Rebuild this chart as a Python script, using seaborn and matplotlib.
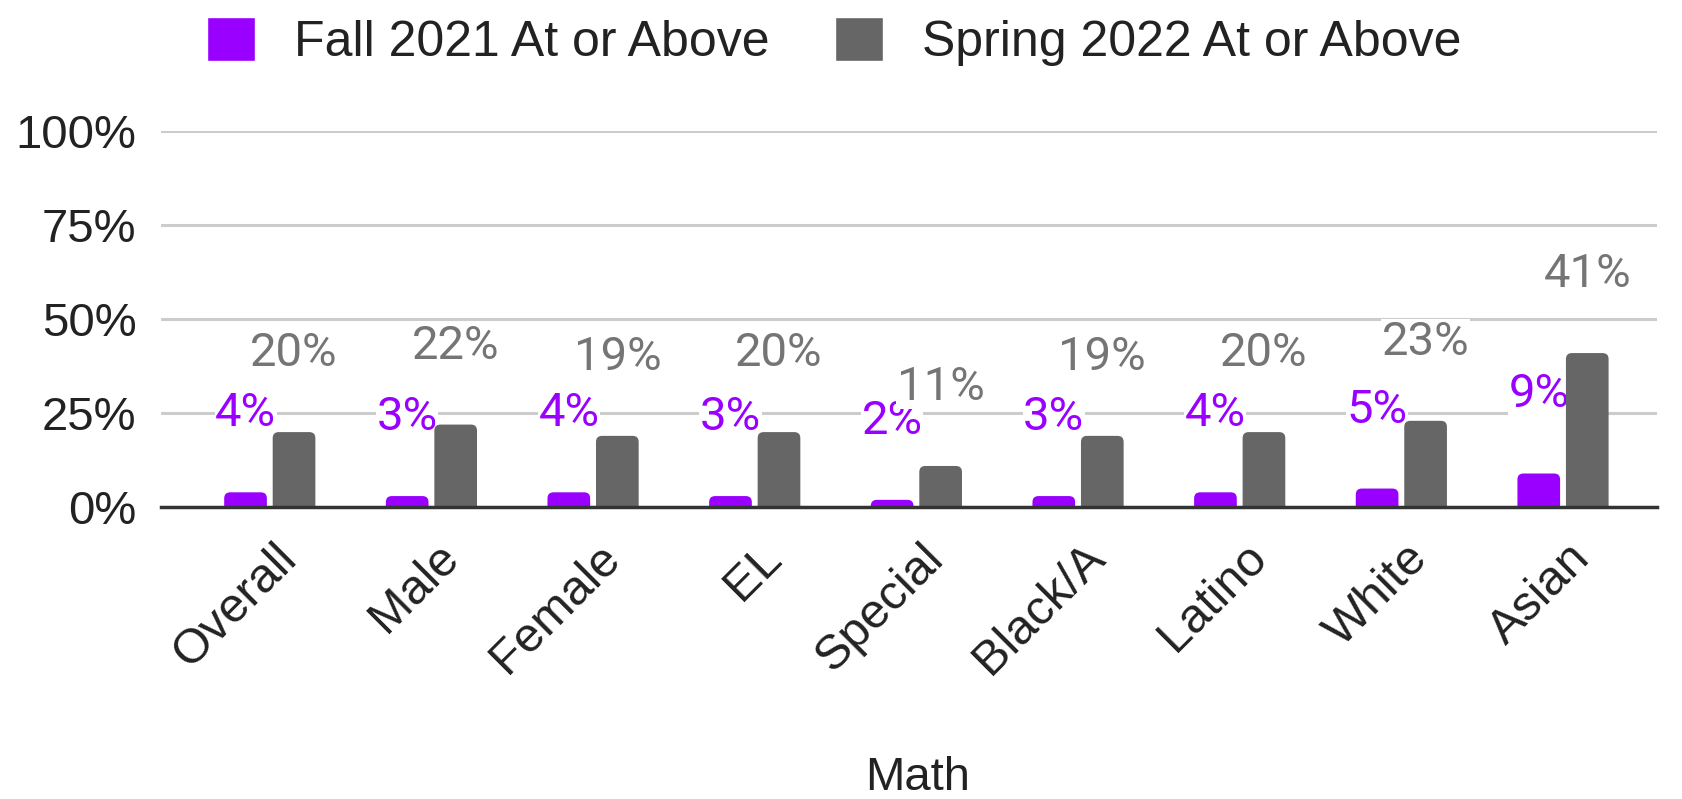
"""
Math: Fall 2021 vs Spring 2022 at or above, by group.
"""

import matplotlib
matplotlib.use("Agg")
import matplotlib.pyplot as plt
import matplotlib.transforms as mtransforms
from matplotlib.patches import FancyBboxPatch
import pandas as pd
import seaborn as sns

groups = ["Overall", "Male", "Female", "EL", "Special", "Black/A", "Latino", "White", "Asian"]
fall_2021 = [4, 3, 4, 3, 2, 3, 4, 5, 9]
spring_2022 = [20, 22, 19, 20, 11, 19, 20, 23, 41]
series_names = ["Fall 2021 At or Above", "Spring 2022 At or Above"]
y_ticks = [0, 25, 50, 75, 100]

FALL_COL = "#9900ff"
SPRING_COL = "#666666"
LABEL_OFFSET = 21  # sheets puts labels well above the bars

df = pd.DataFrame({
    "group": groups * 2,
    "series": [series_names[0]] * len(groups) + [series_names[1]] * len(groups),
    "value": fall_2021 + spring_2022,
})

sns.set_style("white")
plt.rcParams["font.family"] = ["Liberation Sans", "DejaVu Sans"]

fig = plt.figure(figsize=(16.82, 7.99), dpi=100)
ax = fig.add_axes([0.096, 0.365, 0.889, 0.471])

sns.barplot(data=df, x="group", y="value", hue="series", order=groups,
            hue_order=series_names, palette=[FALL_COL, SPRING_COL],
            width=0.6, gap=0.12, saturation=1, legend=True, ax=ax, zorder=2)

ax.set_ylim(0, 100)
ax.set_xlim(-0.67, 8.58)

# rounded tops like the sheets chart (bottom corners pushed under the axis)
px_x = 9.25 / 1496
px_y = 100 / 376
r = 6
for cont in ax.containers:
    for bar in cont:
        x, w, h = bar.get_x(), bar.get_width(), bar.get_height()
        rb = FancyBboxPatch((x, -r * px_y), w, h + r * px_y,
                            boxstyle=f"round,pad=0,rounding_size={r * px_x}",
                            mutation_aspect=px_y / px_x, facecolor=bar.get_facecolor(),
                            edgecolor="none", zorder=2)
        ax.add_patch(rb)
        bar.set_visible(False)

ax.set_yticks(y_ticks)
ax.set_yticklabels([f"{t}%" for t in y_ticks])
ax.yaxis.grid(True, color="#cccccc", linewidth=2.2, zorder=0)
ax.set_axisbelow(True)
for s in ["top", "right", "left"]:
    ax.spines[s].set_visible(False)
ax.spines["bottom"].set_color("#333333")
ax.spines["bottom"].set_linewidth(2.5)
ax.spines["bottom"].set_zorder(3)
ax.tick_params(axis="y", length=0, labelsize=34, colors="#222222", pad=18)
ax.tick_params(axis="x", length=0, labelsize=35, colors="#222222", pad=20)
shift = mtransforms.ScaledTranslation(0.04, 0, fig.dpi_scale_trans)
for lbl in ax.get_xticklabels():
    lbl.set_rotation(45)
    lbl.set_ha("right")
    lbl.set_rotation_mode("anchor")
    lbl.set_transform(lbl.get_transform() + shift)
ax.set_ylabel("")
ax.set_xlabel("Math", fontsize=34, color="#222222")
ax.xaxis.set_label_coords(0.506, -0.662)

# data labels
for cont, col in zip(ax.containers, [FALL_COL, "#757575"]):
    for bar in cont:
        v = bar.get_height()
        ax.text(bar.get_x() + bar.get_width() / 2, v + LABEL_OFFSET, f"{v:.0f}%",
                ha="center", va="center", fontsize=34, color=col, family=["Roboto", "DejaVu Sans"],
                bbox=dict(facecolor="white", edgecolor="none", pad=0.5), zorder=1.5)

leg = ax.legend(loc="center", bbox_to_anchor=(0.496, 0.948), bbox_transform=fig.transFigure,
                ncol=2, frameon=False, handlelength=0.96, handleheight=0.96,
                handletextpad=0.78, columnspacing=1.3, labelcolor="#222222",
                prop={"family": ["Liberation Sans", "DejaVu Sans"], "size": 36})
leg.set_title(None)

fig.savefig("out.png", dpi=100)
